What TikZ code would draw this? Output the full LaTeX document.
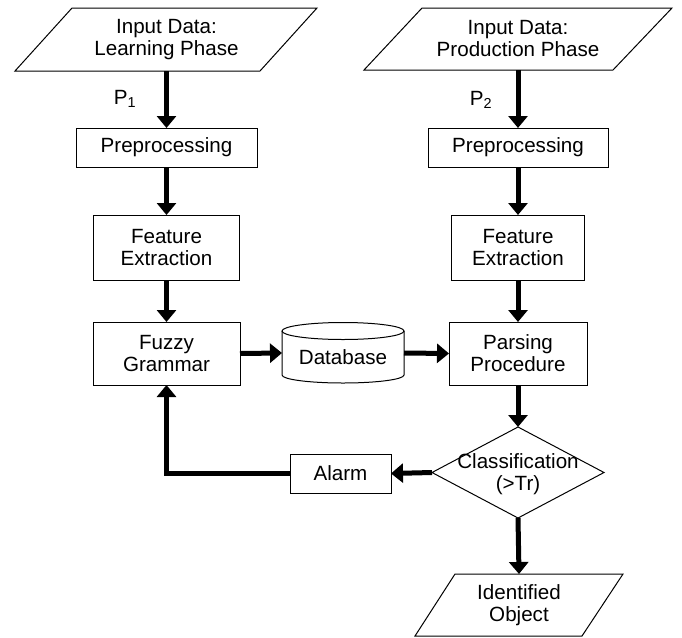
\documentclass[tikz,border=0pt]{standalone}
\usepackage{fontspec}
\setmainfont{Liberation Sans}
\usetikzlibrary{arrows.meta,shapes.geometric}
\begin{document}
\begin{tikzpicture}[x=1pt,y=-1pt,
  every node/.style={font=\fontsize{20.6}{22}\selectfont, align=center, inner sep=0pt, outer sep=0pt},
  outline/.style={draw, line width=1pt},
  box/.style 2 args={outline, minimum width=#1pt, minimum height=#2pt},
  hold/.style 2 args={minimum width=#1pt, minimum height=#2pt},
  flow/.style={line width=5pt, -{Triangle[width=19pt,length=12pt]}}]
\useasboundingbox (0,0) rectangle (682,637);
% input parallelograms
\draw[outline] (72,8) -- (317,8) -- (260,71) -- (15,71) -- cycle;
\node (in1) [hold={200}{63}] at (166.5,39.5) {Input Data:\\Learning Phase};
\draw[outline] (422,8) -- (672,8) -- (613,70) -- (364,70) -- cycle;
\node (in2) [hold={200}{62}] at (518,39) {Input Data:\\Production Phase};
% left column
\node (pre1) [box={181}{39}] at (166.5,147.5) {Preprocessing};
\node (fe1) [box={146}{65}] at (166.5,247.5) {Feature\\Extraction};
\node (fg) [box={147}{63}] at (166.5,353.5) {Fuzzy\\Grammar};
% right column
\node (pre2) [box={180}{39}] at (518,147.5) {Preprocessing};
\node (fe2) [box={133}{65}] at (518,247.5) {Feature\\Extraction};
\node (pp) [box={138}{63}] at (518,353.5) {Parsing\\Procedure};
% database cylinder
\draw[outline] (343,331) ellipse [x radius=61pt, y radius=8.5pt];
\draw[outline] (282,331) -- (282,375) arc[start angle=180, end angle=360, x radius=61pt, y radius=8pt] -- (404,331);
\node (db) [hold={122}{60}] at (343,353) {};
\node at (343,357) {Database};
% classification diamond
\node (cls) [diamond, outline, minimum width=172pt, minimum height=91pt] at (518,472.5) {};
\node at (518,474) {Classification\\(>Tr)};
% alarm
\node (alarm) [box={101}{39}] at (340.5,473.5) {Alarm};
% output parallelogram
\draw[outline] (455,574) -- (623,574) -- (582,636) -- (415,636) -- cycle;
\node (out) [hold={168}{62}] at (519,605) {Identified\\Object};
% labels
\node at (125,99) {P\textsubscript{1}};
\node at (481,100) {P\textsubscript{2}};
% connectors
\draw[flow] (in1.south) -- (pre1.north);
\draw[flow] (pre1.south) -- (fe1.north);
\draw[flow] (fe1.south) -- (fg.north);
\draw[flow] (in2.south) -- (pre2.north);
\draw[flow] (pre2.south) -- (fe2.north);
\draw[flow] (fe2.south) -- (pp.north);
\draw[flow] (fg.east) -- (db.west);
\draw[flow] (db.east) -- (pp.west);
\draw[flow] (pp.south) -- (cls.north);
\draw[flow] (cls.west) -- (alarm.east);
\draw[flow] (alarm.west) -| (fg.south);
\draw[flow] (cls.south) -- (out.north);
\end{tikzpicture}
\end{document}
